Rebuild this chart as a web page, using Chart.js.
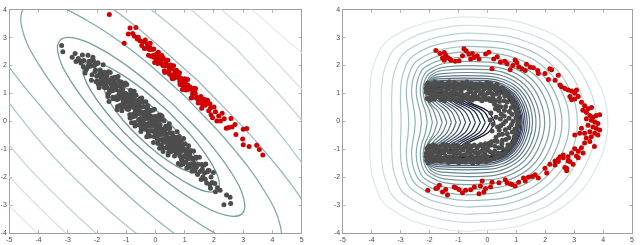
<!DOCTYPE html>
<html>
<head>
<meta charset="utf-8">
<script src="https://cdn.jsdelivr.net/npm/chart.js@4.4.0/dist/chart.umd.min.js"></script>
<style>
  body { margin: 0; background: #fff; }
  #wrap { position: relative; width: 640px; height: 245px; }
  canvas { position: absolute; top: 0; }
</style>
</head>
<body>
<div id="wrap">
  <canvas id="left" width="320" height="245" style="left:0"></canvas>
  <canvas id="right" width="320" height="245" style="left:320px"></canvas>
</div>
<script>
const xTicks = [-5, -4, -3, -2, -1, 0, 1, 2, 3, 4, 5];
const yTicks = [-4, -3, -2, -1, 0, 1, 2, 3, 4];

// left panel: samples
const leftGray = [
  [-3.21,2.72],[-3.17,2.49],[-2.85,2.3],[-2.75,2.43],[-2.72,2.14],[-2.64,2.25],[-2.52,2.14],[-2.47,1.96],
  [-2.58,2.17],[-2.55,2.09],[-2.5,2.38],[-2.45,2.18],[-2.41,1.73],
  [-2.38,1.85],[-2.35,1.89],[-2.31,2.37],[-2.28,2.14],[-2.26,2.06],[-2.23,1.97],[-2.21,2.16],
  [-2.19,1.47],[-2.17,1.67],[-2.14,2.30],[-2.12,2.17],[-2.09,2.01],[-2.07,1.79],[-2.05,1.84],[-2.03,1.42],[-2.01,1.62],
  [-1.99,2.07],[-1.97,2.10],[-1.95,1.32],[-1.93,1.20],[-1.91,1.68],[-1.89,1.84],[-1.87,1.42],[-1.85,1.47],[-1.83,1.34],[-1.82,1.66],[-1.81,1.55],
  [-1.79,2.03],[-1.78,1.45],[-1.76,1.22],[-1.74,1.48],[-1.72,1.57],[-1.71,1.21],[-1.69,1.31],[-1.67,1.22],[-1.66,1.63],[-1.64,1.42],[-1.63,0.89],[-1.62,0.99],[-1.61,1.78],
  [-1.59,0.71],[-1.58,1.03],[-1.57,1.11],[-1.55,1.75],[-1.54,1.48],[-1.52,1.38],[-1.51,1.31],[-1.49,1.55],[-1.48,1.17],[-1.47,1.10],[-1.45,0.81],[-1.44,1.27],[-1.43,1.19],[-1.42,1.42],[-1.41,1.57],
  [-1.39,1.19],[-1.38,1.26],[-1.37,1.33],[-1.35,1.58],[-1.34,0.88],[-1.33,0.78],[-1.31,0.42],[-1.3,0.53],[-1.29,0.79],[-1.28,1.61],[-1.26,1.45],[-1.25,1.27],[-1.24,1.01],[-1.23,1.08],[-1.22,0.57],[-1.21,0.84],
  [-1.19,1.28],[-1.18,1.37],[-1.17,1.41],[-1.16,0.51],[-1.15,0.38],[-1.13,0.94],[-1.12,1.14],[-1.11,0.67],[-1.1,0.74],[-1.08,0.59],[-1.07,0.97],[-1.06,0.84],[-1.05,0.52],[-1.04,0.75],[-1.03,1.37],[-1.02,1.0],[-1.01,0.87],
  [-0.99,0.97],[-0.98,1.32],[-0.97,0.68],[-0.96,0.43],[-0.95,0.73],[-0.93,0.83],[-0.92,0.43],[-0.91,0.56],[-0.9,0.47],[-0.89,0.93],[-0.88,0.71],[-0.87,0.12],[-0.86,0.23],[-0.85,1.11],[-0.84,1.05],[-0.83,0.94],[-0.82,-0.05],[-0.81,0.68],
  [-0.79,0.16],[-0.78,0.65],[-0.77,0.56],[-0.76,0.80],[-0.75,0.96],[-0.73,1.08],[-0.72,0.24],[-0.71,-0.04],[-0.7,-0.17],[-0.69,0.18],[-0.68,0.26],[-0.67,0.94],[-0.66,0.66],[-0.65,0.57],[-0.64,0.48],[-0.63,0.75],[-0.62,0.35],[-0.61,0.27],
  [-0.59,0.32],[-0.58,0.70],[-0.57,0.41],[-0.56,0.48],[-0.55,0.55],[-0.53,0.80],[-0.52,0.10],[-0.51,0.0],[-0.5,-0.36],[-0.49,-0.24],[-0.48,0.02],[-0.47,0.84],[-0.46,0.69],[-0.45,0.51],[-0.44,0.25],[-0.43,0.32],[-0.42,-0.19],[-0.41,0.08],
  [-0.39,-0.07],[-0.38,0.31],[-0.37,0.18],[-0.36,-0.14],[-0.35,0.09],[-0.33,0.70],[-0.32,0.33],[-0.31,0.21],[-0.3,-0.55],[-0.29,0.43],[-0.28,0.52],[-0.27,0.56],[-0.26,-0.34],[-0.25,-0.47],[-0.24,0.10],[-0.23,0.30],[-0.22,-0.18],[-0.21,-0.11],
  [-0.19,-0.53],[-0.18,0.20],[-0.17,-0.15],[-0.16,0.40],[-0.15,-0.34],[-0.13,-0.01],[-0.12,0.02],[-0.11,-0.34],[-0.1,0.40],[-0.09,-0.15],[-0.08,0.16],[-0.07,-0.76],[-0.06,0.01],[-0.05,-0.54],[-0.04,0.43],[-0.03,-0.36],[-0.02,0.17],[-0.01,-0.16],
  [0.01,-0.06],[0.02,-0.46],[0.03,-0.34],[0.05,-0.44],[0.06,0.02],[0.07,-0.20],[0.08,-0.79],[0.09,-0.68],[0.1,0.21],[0.11,0.15],[0.12,0.04],[0.14,-0.96],[0.15,-0.23],[0.16,-0.12],[0.17,0.23],[0.18,-0.41],[0.19,-0.66],
  [0.21,0.05],[0.22,0.18],[0.23,-0.66],[0.25,-0.95],[0.26,-1.08],[0.27,-0.74],[0.28,-0.66],[0.29,0.02],[0.31,-0.26],[0.32,-0.35],[0.33,-0.44],[0.35,-0.18],[0.36,-0.58],[0.37,-0.66],[0.38,-0.95],[0.39,-0.46],
  [0.41,-0.77],[0.42,-0.87],[0.43,-1.21],[0.45,-1.11],[0.46,-0.87],[0.47,-0.09],[0.49,-0.24],[0.5,-0.41],[0.52,-0.66],[0.53,-0.60],[0.54,-1.08],[0.56,-0.83],[0.57,-0.78],[0.58,-0.42],[0.59,-0.69],
  [0.61,-0.53],[0.62,-0.96],[0.64,-0.91],[0.66,-1.05],[0.67,-0.70],[0.69,-0.83],[0.71,-1.12],[0.72,-0.92],[0.74,-0.37],[0.75,-0.70],[0.77,-0.83],[0.78,-1.51],[0.79,-0.63],
  [0.81,-0.54],[0.83,-1.23],[0.84,-0.91],[0.86,-1.56],[0.87,-0.73],[0.89,-1.08],[0.91,-1.39],[0.92,-0.87],[0.94,-1.53],[0.96,-0.61],[0.97,-1.28],[0.99,-1.01],
  [1.01,-0.81],[1.03,-1.46],[1.05,-1.15],[1.07,-1.67],[1.09,-1.02],[1.11,-1.35],[1.13,-0.87],[1.15,-1.64],[1.17,-1.19],[1.19,-1.53],
  [1.21,-1.05],[1.23,-1.59],[1.25,-1.79],[1.28,-1.32],[1.3,-1.06],[1.33,-1.51],[1.35,-1.78],[1.37,-1.32],[1.39,-1.64],
  [1.42,-1.29],[1.44,-1.90],[1.47,-1.55],[1.5,-1.29],[1.53,-1.80],[1.56,-2.08],[1.58,-1.55],
  [1.62,-1.99],[1.65,-1.57],[1.68,-1.85],[1.72,-1.53],[1.75,-2.21],[1.78,-1.81],
  [1.83,-1.76],[1.86,-2.27],[1.9,-1.99],[1.94,-2.19],[1.98,-1.83],
  [1.88,-2.4],[2.03,-2.23],[2.12,-2.38],[2.21,-2.47],[2.05,-2.52],[2.43,-2.64],[2.55,-2.72],[2.57,-2.94],[2.34,-2.99],
  [-1.35,1.13],[-1.27,0.89],[-1.14,1.06],[-1.09,0.79],[-0.94,0.79],[-0.9,0.51],[-0.74,0.50],[-0.69,0.37],[-0.63,0.52],[-0.54,0.29],
  [-0.47,0.33],[-0.44,0.08],[-0.34,0.12],[-0.27,-0.16],[-0.2,0.12],[-0.14,-0.13],[-0.06,-0.07],[0.0,-0.30],[0.04,-0.20],[0.13,-0.49],
  [0.2,-0.28],[0.24,-0.47],[0.3,-0.32],[0.34,-0.64],[0.44,-0.60],[0.51,-0.88],[0.55,-0.58],[0.63,-0.86],[0.68,-0.78],[0.73,-1.04],
  [0.85,-1.01],[0.95,-0.98],[1.04,-1.27],[1.14,-1.18],[-1.52,1.16],[-1.63,1.47],[-1.86,1.55],[1.27,-1.37],[-0.81,0.78],[-0.58,0.05],
  [0.09,0.04],[0.48,-1.04],
  [-1.75,1.76],[-1.68,1.20],[-1.56,1.40],[-1.46,0.86],[-1.40,1.53],[-1.32,1.27],[-1.2,0.54],[-1.16,1.20],[-1.09,1.29],[-1.0,0.50],
  [-0.97,0.92],[-0.88,0.24],[-0.84,0.93],[-0.77,0.25],[-0.72,0.90],[-0.66,0.33],[-0.6,0.62],[-0.56,-0.12],[-0.5,0.33],[-0.45,-0.07],
  [-0.4,0.53],[-0.36,-0.28],[-0.3,0.31],[-0.25,-0.08],[-0.2,0.37],[-0.16,-0.35],[-0.1,0.05],[-0.05,-0.37],[0.0,0.10],[0.06,-0.62],
  [0.1,-0.28],[0.15,0.06],[0.2,-0.84],[0.26,-0.35],[0.3,-0.74],[0.36,-0.26],[0.4,-0.68],[0.45,-0.27],[0.5,-1.01],[0.55,-0.72],
  [0.6,-0.57],[0.65,-1.24],[0.7,-0.57],[0.76,-1.12],[0.8,-0.84],[0.88,-1.34],[0.93,-0.80],[0.98,-1.25],[1.06,-1.03],[1.12,-1.56],
  [1.2,-1.29],[1.3,-1.64],[1.38,-1.29],[-1.9,1.71],[-2.0,1.45],[-2.1,2.00],[-2.3,1.99],[1.6,-1.72],[1.7,-2.07],[1.8,-1.76]
];

const leftRed = [
  [-1.58,3.83],[-0.87,3.34],[-0.67,3.36],[-0.93,3.13],[-0.78,3.15],[-1.07,2.8],[-0.59,3.01],[-0.53,2.89],[-0.47,2.72],[-0.72,3.05],[-0.62,2.95],
  [-0.42,2.85],[-0.38,2.61],[-0.35,2.91],[-0.31,2.63],[-0.28,2.78],[-0.24,2.37],[-0.21,2.57],[-0.18,2.80],[-0.15,2.33],[-0.12,2.57],
  [-0.09,2.36],[-0.06,2.59],[-0.03,2.11],[0.0,2.39],[0.03,2.21],[0.05,2.42],[0.08,2.07],[0.1,2.48],[0.13,2.20],[0.15,2.28],
  [0.18,2.13],[0.2,2.07],[0.22,2.36],[0.24,2.25],[0.26,2.27],[0.28,2.04],[0.3,1.81],[0.32,1.75],[0.34,2.08],[0.36,1.99],
  [0.38,2.0],[0.4,2.01],[0.42,2.19],[0.44,1.79],[0.46,1.75],[0.48,1.69],[0.5,1.96],[0.52,2.02],[0.54,1.90],[0.56,1.58],
  [0.58,1.53],[0.6,1.54],[0.62,1.99],[0.64,1.68],[0.66,1.78],[0.68,1.73],[0.7,1.82],[0.72,1.82],[0.74,1.64],[0.76,1.72],
  [0.78,1.67],[0.8,1.54],[0.82,1.74],[0.84,1.32],[0.86,1.55],[0.88,1.37],[0.9,1.30],[0.92,1.14],[0.94,1.35],[0.96,1.26],
  [0.98,1.45],[1.0,1.53],[1.02,1.43],[1.04,1.12],[1.06,1.14],[1.08,1.14],[1.1,1.50],[1.12,1.28],[1.14,1.23],[1.16,1.18],
  [1.19,1.22],[1.22,0.84],[1.25,0.85],[1.28,1.02],[1.31,1.19],[1.34,1.12],[1.37,1.18],[1.4,0.84],[1.43,0.85],[1.46,0.66],
  [1.49,0.70],[1.52,0.78],[1.55,0.89],[1.58,0.47],[1.62,0.80],[1.66,0.67],[1.7,0.58],[1.74,0.65],[1.78,0.76],[1.82,0.38],
  [1.86,0.63],[1.9,0.24],[1.95,0.13],[2.0,0.51],[2.05,0.34],[2.1,0.01],[2.16,0.19],[2.22,0.01],[2.28,0.29],[2.35,0.09],
  [2.42,-0.25],[2.5,-0.22],
  [0.25,2.0],[0.35,2.2],[0.47,1.86],[0.57,1.9],[0.65,1.55],[0.73,1.75],[0.83,1.42],[0.91,1.5],[1.0,1.38],[1.09,1.3],
  [1.18,1.15],[1.27,0.98],[1.36,1.0],[1.45,0.8],[1.6,0.62],[1.68,0.78],[1.88,0.48],[-0.2,2.66],[-0.05,2.3],[0.07,2.35],
  [2.58,0.1],[2.62,-0.2],[2.72,-0.11],[3.12,-0.26],[3.0,-0.28],[2.75,-0.47],[2.98,-0.63],[3.0,-0.84],[3.2,-0.9],[3.46,-0.86],[3.55,-1.01],[3.67,-1.21]
];

// left panel: contour levels, innermost first
const leftLevels = [
  [[0.24,0.19],[-0.39,0.76],[-0.98,1.18],[-1.44,1.39],[-1.71,1.36],[-1.74,1.09],[-1.53,0.63],[-1.11,0.04],[-0.54,-0.59],[0.09,-1.16],[0.68,-1.58],[1.14,-1.79],[1.41,-1.76],[1.44,-1.49],[1.23,-1.03],[0.81,-0.44],[0.24,0.19]],
  [[0.42,0.37],[-0.49,1.19],[-1.35,1.80],[-2.02,2.11],[-2.41,2.06],[-2.46,1.67],[-2.15,1.0],[-1.54,0.14],[-0.72,-0.77],[0.19,-1.59],[1.05,-2.2],[1.72,-2.51],[2.11,-2.46],[2.16,-2.07],[1.85,-1.4],[1.24,-0.54],[0.42,0.37]],
  [[0.63,0.58],[-0.62,1.71],[-1.80,2.55],[-2.73,2.97],[-3.26,2.91],[-3.32,2.38],[-2.90,1.45],[-2.06,0.27],[-0.93,-0.98],[0.32,-2.11],[1.50,-2.95],[2.43,-3.37],[2.96,-3.31],[3.02,-2.78],[2.60,-1.85],[1.76,-0.67],[0.63,0.58]],
  [[0.98,0.93],[-0.76,2.50],[-2.40,3.65],[-3.70,4.22],[-4.46,4.11],[-4.57,3.35],[-4.0,2.05],[-2.85,0.41],[-1.28,-1.33],[0.46,-2.90],[2.10,-4.05],[3.40,-4.62],[4.16,-4.51],[4.27,-3.75],[3.70,-2.45],[2.53,-0.81],[0.98,0.93]],
  [[1.48,1.43],[-1.03,3.69],[-3.40,5.35],[-5.28,6.17],[-6.37,6.02],[-6.52,4.93],[-5.70,3.05],[-4.04,0.68],[-1.78,-1.83],[0.73,-4.09],[3.10,-5.75],[4.98,-6.57],[6.07,-6.42],[6.22,-5.33],[5.40,-3.45],[3.74,-1.08],[1.48,1.43]],
  [[2.08,2.03],[-0.53,4.30],[-3.08,5.88],[-5.18,6.53],[-6.51,6.16],[-6.88,4.83],[-6.23,2.73],[-4.65,0.18],[-2.38,-2.43],[0.23,-4.70],[2.78,-6.28],[4.88,-6.93],[6.21,-6.56],[6.58,-5.23],[5.93,-3.13],[4.35,-0.58],[2.08,2.03]],
  [[2.71,2.66],[-0.35,5.29],[-3.38,7.08],[-5.91,7.76],[-7.58,7.23],[-8.11,5.56],[-7.43,3.03],[-5.64,0.0],[-3.01,-3.06],[0.05,-5.69],[3.08,-7.48],[5.61,-8.16],[7.28,-7.63],[7.81,-5.96],[7.13,-3.43],[5.34,-0.40],[2.71,2.66]],
  [[3.21,3.16],[-0.30,6.15],[-3.78,8.18],[-6.70,8.93],[-8.64,8.29],[-9.28,6.35],[-8.53,3.43],[-6.50,-0.05],[-3.51,-3.56],[-0.01,-6.55],[3.48,-8.58],[6.40,-9.33],[8.34,-8.69],[8.98,-6.75],[8.23,-3.83],[6.20,-0.35],[3.21,3.16]],
  [[3.70,3.65],[-0.25,7.02],[-4.17,9.27],[-7.49,10.10],[-9.70,9.35],[-10.45,7.14],[-9.62,3.82],[-7.37,-0.11],[-4.0,-4.05],[-0.05,-7.42],[3.87,-9.67],[7.19,-10.50],[9.40,-9.75],[10.15,-7.54],[9.32,-4.22],[7.07,0.29],[3.70,3.65]]
];
const leftLevelColors = ['#6c9799', '#6f9a9c', '#76a0a1', '#84abab', '#98baba', '#aec9c9', '#c3d8d8', '#d4e4e4', '#e2eded'];

// right panel: samples
const rightGray = [
  [-2.11,1.05],[-2.10,1.30],[-2.12,1.18],[-2.11,-1.14],[-2.10,-1.39],[-2.12,-1.26],
  [-2.10,1.19],[-2.08,0.82],[-2.06,1.37],[-2.04,1.02],[-2.02,1.27],[-1.99,0.76],[-1.97,1.09],[-1.95,1.33],[-1.93,0.90],[-1.90,1.15],[-1.88,0.97],[-1.86,1.24],[-1.84,0.79],[-1.81,1.40],[-1.79,1.05],[-1.77,1.30],[-1.75,0.87],[-1.72,1.13],[-1.70,0.93],[-1.68,1.36],
  [-1.66,0.95],[-1.63,1.31],[-1.61,0.78],[-1.59,1.12],[-1.57,1.38],[-1.54,0.86],[-1.52,1.22],[-1.50,1.01],[-1.48,0.74],[-1.45,1.28],[-1.43,1.07],[-1.41,0.91],[-1.39,1.35],[-1.36,0.81],[-1.34,1.17],[-1.32,1.42],[-1.30,0.99],[-1.27,0.77],[-1.25,1.25],[-1.23,1.04],
  [-1.21,1.29],[-1.18,0.88],[-1.16,1.11],[-1.14,1.39],[-1.12,0.80],[-1.09,1.03],[-1.07,1.21],[-1.05,0.75],[-1.03,1.34],[-1.00,0.96],[-0.98,1.16],[-0.96,0.84],[-0.94,1.26],[-0.91,1.08],[-0.89,0.72],[-0.87,1.37],[-0.85,0.94],[-0.82,1.19],[-0.80,0.83],[-0.78,1.32],
  [-0.76,0.89],[-0.73,1.23],[-0.71,1.41],[-0.69,0.98],[-0.67,0.79],[-0.64,1.14],[-0.62,1.30],[-0.60,0.85],[-0.58,1.06],[-0.55,1.36],[-0.53,0.76],[-0.51,1.18],[-0.49,0.92],[-0.46,1.27],[-0.44,1.00],[-0.42,0.81],[-0.40,1.33],[-0.37,1.10],[-0.35,0.87],[-0.33,1.20],
  [-0.31,1.12],[-0.28,0.80],[-0.26,1.35],[-0.24,0.97],[-0.22,1.24],[-0.19,0.74],[-0.17,1.05],[-0.15,1.31],[-0.13,0.88],[-0.10,1.17],[-0.08,0.93],[-0.06,1.28],[-0.04,0.78],[-0.01,1.39],[0.01,1.02],[0.03,1.21],
  [-2.09,-0.97],[-2.07,-1.31],[-2.05,-1.49],[-2.03,-1.06],[-2.01,-0.87],[-1.98,-1.22],[-1.96,-1.38],[-1.94,-0.93],[-1.92,-1.14],[-1.89,-1.44],[-1.87,-0.84],[-1.85,-1.26],[-1.83,-1.00],[-1.80,-1.35],[-1.78,-1.08],[-1.76,-0.89],[-1.74,-1.41],[-1.71,-1.18],[-1.69,-0.95],[-1.67,-1.28],
  [-1.65,-1.20],[-1.62,-0.88],[-1.60,-1.43],[-1.58,-1.05],[-1.56,-1.32],[-1.53,-0.82],[-1.51,-1.13],[-1.49,-1.39],[-1.47,-0.96],[-1.44,-1.25],[-1.42,-1.01],[-1.40,-1.36],[-1.38,-0.86],[-1.35,-1.47],[-1.33,-1.10],[-1.31,-1.29],
  [-1.29,-1.27],[-1.26,-0.90],[-1.24,-1.45],[-1.22,-1.10],[-1.20,-1.35],[-1.17,-0.84],[-1.15,-1.17],[-1.13,-1.41],[-1.11,-0.98],[-1.08,-1.23],[-1.06,-1.05],[-1.04,-1.32],[-1.02,-0.87],[-0.99,-1.48],[-0.97,-1.13],[-0.95,-1.38],[-0.93,-0.95],[-0.90,-1.21],[-0.88,-1.01],[-0.86,-1.44],
  [-0.84,-1.03],[-0.81,-1.39],[-0.79,-0.86],[-0.77,-1.20],[-0.75,-1.46],[-0.72,-0.94],[-0.70,-1.30],[-0.68,-1.09],[-0.66,-0.82],[-0.63,-1.36],[-0.61,-1.15],[-0.59,-0.99],[-0.57,-1.43],[-0.54,-0.89],[-0.52,-1.25],[-0.50,-1.50],[-0.48,-1.07],[-0.45,-0.85],[-0.43,-1.33],[-0.41,-1.12],
  [-0.39,-1.37],[-0.36,-0.96],[-0.34,-1.19],[-0.32,-1.47],[-0.30,-0.88],[-0.27,-1.11],[-0.25,-1.29],[-0.23,-0.83],[-0.21,-1.42],[-0.18,-1.04],[-0.16,-1.24],[-0.14,-0.92],[-0.12,-1.34],[-0.09,-1.16],[-0.07,-0.80],[-0.05,-1.45],[-0.03,-1.02],[0.0,-1.27],[0.02,-0.91],[0.04,-1.40],
  [0.05,0.82],[0.08,1.11],[0.11,1.36],[0.09,0.75],[0.15,1.0],[0.2,1.24],[0.19,0.87],[0.27,1.13],[0.33,1.33],
  [0.19,0.72],[0.31,0.98],[0.39,1.18],[0.28,0.75],[0.42,1.0],[0.53,1.19],[0.25,0.61],[0.42,0.84],[0.59,1.07],
  [0.42,0.71],[0.60,0.91],[0.72,1.03],[0.36,0.54],[0.58,0.74],[0.74,0.88],[0.46,0.52],[0.69,0.69],[0.86,0.81],
  [0.39,0.39],[0.63,0.53],[0.87,0.67],[0.59,0.39],[0.83,0.5],[0.99,0.57],[0.48,0.25],[0.76,0.35],[0.98,0.42],
  [0.58,0.19],[0.85,0.25],[1.03,0.28],[0.45,0.08],[0.75,0.11],[0.99,0.14],[0.63,0],[0.89,0],[1.08,0],
  [0.55,-0.09],[0.83,-0.12],[1.04,-0.14],[0.46,-0.16],[0.75,-0.23],[0.95,-0.27],[0.62,-0.30],[0.86,-0.38],[1.02,-0.43],
  [0.41,-0.31],[0.69,-0.44],[0.93,-0.55],[0.52,-0.46],[0.74,-0.59],[0.94,-0.70],[0.40,-0.48],[0.64,-0.65],[0.85,-0.81],
  [0.52,-0.68],[0.71,-0.85],[0.80,-0.94],[0.30,-0.57],[0.50,-0.80],[0.67,-0.98],[0.34,-0.72],[0.50,-0.95],[0.63,-1.12],
  [0.25,-0.70],[0.39,-0.95],[0.52,-1.17],[0.26,-0.89],[0.38,-1.14],[0.44,-1.28],[0.14,-0.73],[0.25,-1.07],[0.31,-1.26],
  [0.11,-0.85],[0.18,-1.14],[0.22,-1.34],[0.05,-0.79],[0.08,-1.08],[0.11,-1.37],
  [0.12,0.3],[0.2,-0.1],[0.3,0.15],[0.16,-0.35],[0.35,-0.2],[0.28,0.45],[0.1,0.05]
];

const rightRed = [
  [-1.78,2.54],[-1.64,2.43],[-1.49,2.47],[-1.55,2.27],[-1.38,2.29],[-1.30,2.23],[-1.44,2.37],[-1.49,2.19],[-1.26,2.19],[-1.11,2.15],
  [-0.98,2.17],[-0.86,2.35],[-0.81,2.60],[-0.73,2.52],[-0.64,2.41],[-0.58,2.23],[-0.46,2.29],[-0.52,2.43],[-0.35,2.35],[-0.29,2.23],
  [-0.06,2.41],[0.05,2.48],[0.22,2.23],[0.34,2.31],[0.16,1.88],[0.45,2.12],[0.6,2.15],[0.68,2.06],[0.79,1.85],[0.88,2.0],
  [0.96,2.20],[1.02,2.11],[1.08,1.96],[1.19,1.88],[1.31,1.82],[1.35,2.05],[1.48,1.94],[1.59,1.92],[1.74,1.82],[1.76,1.71],
  [1.99,1.71],[2.11,1.50],[2.16,1.88],[2.22,1.85],[2.34,1.47],[2.45,1.65],[2.51,1.30],[2.56,1.24],[2.68,1.18],[2.79,1.12],
  [2.85,0.89],[2.91,0.77],[3.02,1.01],[3.08,1.12],[3.14,0.89],[2.91,1.09],[3.02,0.80],
  [3.25,0.68],[3.36,0.56],[3.48,0.45],[3.42,0.33],[3.54,0.21],[3.65,0.15],[3.76,0.21],[3.88,0.24],[3.59,0.04],[3.71,-0.02],
  [3.82,-0.08],[3.48,-0.14],[3.65,-0.20],[3.76,-0.25],[3.88,-0.31],[3.54,-0.37],[3.71,-0.43],[3.82,-0.49],[3.59,-0.55],[3.42,-0.60],
  [3.54,-0.72],[3.36,-0.78],[3.25,-0.95],[3.14,-1.07],[3.31,-1.13],[3.08,-1.24],[3.14,-1.30],[2.91,-1.13],[2.79,-1.42],[2.96,-1.54],
  [2.68,-1.65],[2.74,-1.77],[2.62,-1.30],[2.45,-1.36],[3.02,-0.49],[3.19,-0.43],[3.36,-0.43],[3.25,-0.25],[3.42,0.09],[3.30,0.40],
  [3.6,0.5],[3.7,-0.9],[3.02,-0.98],[2.85,-1.44],[2.74,-1.68],[2.79,-1.27],[2.62,-1.21],[2.51,-1.27],[2.45,-1.44],[2.34,-1.56],
  [2.05,-1.85],[1.99,-1.68],[1.76,-2.03],[1.65,-1.91],[1.31,-2.14],[1.25,-2.03],[0.96,-2.32],[0.85,-2.26],[0.68,-2.20],[0.62,-2.09],
  [-0.24,-2.32],[-0.18,-2.14],[-0.98,-2.44],[-1.09,-2.38],[-1.44,-2.44],[-1.72,-2.38],[-2.06,-2.47],[-1.78,-2.41],[-1.66,-2.29],[-1.55,-2.53],
  [-1.38,-2.64],[-1.15,-2.35],[-0.86,-2.56],[-0.75,-2.47],[-0.58,-2.45],[-0.29,-2.59],[-0.12,-2.53],[-0.06,-2.41],[0.11,-2.35],[0.16,-2.18],
  [0.79,-2.24],[1.08,-2.18],[1.42,-2.0],[2.16,-1.54],[2.34,-1.42],[1.55,-1.98],[0.4,-2.2],[-0.45,-2.35]
];

// right panel: contour levels, outermost first
const rightLevels = [
  [[-4.06,-0.04],[-4.06,1.1],[-3.93,2.01],[-3.41,2.93],[-1.71,3.63],[0,3.71],[1.58,3.41],[2.95,2.63],[3.83,1.41],[4.16,-0.04],[3.83,-1.51],[2.95,-2.78],[1.58,-3.59],[0,-3.90],[-1.71,-3.82],[-3.41,-3.09],[-3.93,-2.13],[-4.06,-1.18],[-4.06,-0.04]],
  [[-3.66,-0.04],[-3.66,1.1],[-3.54,1.91],[-3.08,2.72],[-1.58,3.34],[0,3.41],[1.43,3.14],[2.68,2.42],[3.47,1.30],[3.77,-0.04],[3.47,-1.39],[2.68,-2.56],[1.43,-3.31],[0,-3.59],[-1.58,-3.51],[-3.08,-2.87],[-3.54,-2.03],[-3.66,-1.18],[-3.66,-0.04]],
  [[-3.30,-0.04],[-3.30,1.1],[-3.20,1.81],[-2.79,2.52],[-1.47,3.07],[0,3.13],[1.30,2.88],[2.43,2.22],[3.15,1.19],[3.42,-0.04],[3.15,-1.28],[2.43,-2.35],[1.30,-3.04],[0,-3.30],[-1.47,-3.23],[-2.79,-2.66],[-3.20,-1.92],[-3.30,-1.18],[-3.30,-0.04]],
  [[-2.98,-0.04],[-3.0,1.1],[-2.91,1.72],[-2.56,2.35],[-1.40,2.83],[0,2.88],[1.18,2.65],[2.21,2.04],[2.86,1.09],[3.11,-0.04],[2.86,-1.17],[2.21,-2.16],[1.18,-2.80],[0,-3.04],[-1.40,-2.98],[-2.56,-2.48],[-2.91,-1.83],[-3.0,-1.18],[-2.98,-0.04]],
  [[-2.72,-0.04],[-2.74,0.38],[-2.78,0.74],[-2.80,1.1],[-2.72,1.65],[-2.41,2.19],[-1.40,2.61],[0,2.66],[1.08,2.45],[2.01,1.89],[2.60,1.01],[2.83,-0.04],[2.60,-1.09],[2.01,-2.01],[1.08,-2.59],[0,-2.81],[-1.40,-2.75],[-2.41,-2.32],[-2.72,-1.76],[-2.80,-1.18],[-2.78,-0.81],[-2.74,-0.44],[-2.72,-0.04]],
  [[-2.49,-0.04],[-2.53,0.38],[-2.59,0.74],[-2.62,1.1],[-2.55,1.58],[-2.28,2.05],[-1.40,2.42],[0,2.46],[0.98,2.26],[1.83,1.75],[2.37,0.93],[2.58,-0.04],[2.37,-1.01],[1.83,-1.86],[0.98,-2.39],[0,-2.60],[-1.40,-2.56],[-2.28,-2.17],[-2.55,-1.68],[-2.62,-1.18],[-2.59,-0.81],[-2.53,-0.44],[-2.49,-0.04]],
  [[-2.28,-0.04],[-2.33,0.38],[-2.42,0.74],[-2.46,1.1],[-2.40,1.51],[-2.17,1.93],[-1.40,2.24],[0,2.28],[0.90,2.10],[1.68,1.62],[2.17,0.87],[2.36,-0.04],[2.17,-0.94],[1.68,-1.72],[0.90,-2.22],[0,-2.41],[-1.40,-2.37],[-2.17,-2.05],[-2.40,-1.61],[-2.46,-1.18],[-2.42,-0.81],[-2.33,-0.44],[-2.28,-0.04]],
  [[-2.08,-0.04],[-2.15,0.38],[-2.27,0.74],[-2.32,1.1],[-2.27,1.46],[-2.07,1.81],[-1.40,2.09],[0,2.12],[0.82,1.95],[1.53,1.51],[1.99,0.81],[2.16,-0.04],[1.99,-0.88],[1.53,-1.61],[0.82,-2.07],[0,-2.24],[-1.40,-2.21],[-2.07,-1.92],[-2.27,-1.56],[-2.32,-1.18],[-2.27,-0.81],[-2.15,-0.44],[-2.08,-0.04]],
  [[-1.90,-0.04],[-2.0,0.38],[-2.16,0.74],[-2.22,1.1],[-2.18,1.41],[-2.0,1.72],[-1.43,1.95],[0,1.98],[0.75,1.82],[1.41,1.41],[1.82,0.75],[1.98,-0.04],[1.82,-0.82],[1.41,-1.51],[0.75,-1.93],[0,-2.10],[-1.43,-2.07],[-2.0,-1.83],[-2.18,-1.51],[-2.22,-1.18],[-2.16,-0.81],[-2.0,-0.44],[-1.90,-0.04]],
  [[-1.73,-0.04],[-1.86,0.38],[-2.07,0.74],[-2.16,1.1],[-1.97,1.63],[-1.49,1.83],[0,1.85],[0.69,1.70],[1.29,1.31],[1.67,0.70],[1.82,-0.04],[1.67,-0.77],[1.29,-1.40],[0.69,-1.81],[0,-1.96],[-1.49,-1.94],[-1.97,-1.74],[-2.16,-1.18],[-2.07,-0.81],[-1.86,-0.44],[-1.73,-0.04]],
  [[-1.56,-0.04],[-1.71,0.36],[-2.0,0.68],[-2.13,1.1],[-1.97,1.54],[-1.56,1.71],[0,1.73],[0.64,1.59],[1.19,1.23],[1.55,0.66],[1.68,-0.04],[1.55,-0.73],[1.19,-1.32],[0.64,-1.69],[0,-1.84],[-1.56,-1.82],[-1.97,-1.64],[-2.13,-1.18],[-2.0,-0.75],[-1.71,-0.41],[-1.56,-0.04]],
  [[-1.40,-0.04],[-1.56,0.36],[-1.88,0.68],[-2.12,1.1],[-1.99,1.46],[-1.65,1.60],[0,1.62],[0.59,1.49],[1.11,1.15],[1.44,0.62],[1.56,-0.04],[1.44,-0.68],[1.11,-1.24],[0.59,-1.59],[0,-1.72],[-1.65,-1.70],[-1.99,-1.56],[-2.12,-1.18],[-1.88,-0.75],[-1.56,-0.41],[-1.40,-0.04]],
  [[-1.24,-0.04],[-1.40,0.36],[-1.76,0.68],[-2.11,1.1],[-2.0,1.40],[-1.72,1.52],[0,1.53],[0.55,1.41],[1.04,1.09],[1.34,0.58],[1.46,-0.04],[1.34,-0.64],[1.04,-1.17],[0.55,-1.51],[0,-1.63],[-1.72,-1.62],[-2.0,-1.50],[-2.11,-1.18],[-1.76,-0.75],[-1.40,-0.41],[-1.24,-0.04]],
  [[-1.08,-0.04],[-1.25,0.36],[-1.64,0.68],[-1.94,0.9],[-2.10,1.1],[-2.01,1.35],[-1.78,1.45],[0,1.46],[0.52,1.34],[0.98,1.04],[1.27,0.55],[1.38,-0.04],[1.27,-0.61],[0.98,-1.12],[0.52,-1.43],[0,-1.56],[-1.78,-1.55],[-2.01,-1.44],[-2.10,-1.18],[-1.94,-0.98],[-1.64,-0.75],[-1.25,-0.41],[-1.08,-0.04]],
  [[-0.92,-0.04],[-1.10,0.36],[-1.52,0.68],[-1.82,0.9],[-2.10,1.1],[-2.03,1.31],[-1.83,1.39],[0,1.40],[0.50,1.29],[0.93,0.99],[1.21,0.53],[1.31,-0.04],[1.21,-0.59],[0.93,-1.07],[0.50,-1.38],[0,-1.50],[-1.83,-1.49],[-2.03,-1.40],[-2.10,-1.18],[-1.82,-0.98],[-1.52,-0.75],[-1.10,-0.41],[-0.92,-0.04]],
  [[-0.75,-0.04],[-0.94,0.36],[-1.39,0.68],[-1.69,0.9],[-2.09,1.1],[-2.03,1.28],[-1.87,1.34],[0,1.35],[0.48,1.24],[0.89,0.96],[1.15,0.51],[1.25,-0.04],[1.15,-0.57],[0.89,-1.04],[0.48,-1.33],[0,-1.44],[-1.87,-1.43],[-2.03,-1.37],[-2.09,-1.18],[-1.69,-0.98],[-1.39,-0.75],[-0.94,-0.41],[-0.75,-0.04]],
  [[-0.58,-0.04],[-0.78,0.36],[-1.26,0.68],[-1.56,0.9],[-2.09,1.1],[-2.04,1.25],[-1.90,1.30],[0,1.31],[0.46,1.21],[0.85,0.93],[1.10,0.50],[1.20,-0.04],[1.10,-0.56],[0.85,-1.01],[0.46,-1.30],[0,-1.40],[-1.90,-1.39],[-2.04,-1.34],[-2.09,-1.18],[-1.56,-0.98],[-1.26,-0.75],[-0.78,-0.41],[-0.58,-0.04]],
  [[-0.41,-0.04],[-0.61,0.36],[-1.13,0.68],[-1.43,0.9],[-2.08,1.1],[-2.04,1.23],[-1.92,1.27],[0,1.28],[0.44,1.18],[0.82,0.91],[1.07,0.49],[1.16,-0.04],[1.07,-0.55],[0.82,-0.99],[0.44,-1.27],[0,-1.37],[-1.92,-1.36],[-2.04,-1.32],[-2.08,-1.18],[-1.43,-0.98],[-1.13,-0.75],[-0.61,-0.41],[-0.41,-0.04]],
  [[-0.24,-0.04],[-0.45,0.36],[-1.0,0.68],[-1.30,0.9],[-2.08,1.1],[-2.04,1.2],[-1.95,1.25],[0,1.25],[0.43,1.15],[0.80,0.89],[1.03,0.48],[1.12,-0.04],[1.03,-0.54],[0.80,-0.96],[0.43,-1.24],[0,-1.34],[-1.95,-1.34],[-2.04,-1.29],[-2.08,-1.18],[-1.30,-0.98],[-1.0,-0.75],[-0.45,-0.41],[-0.24,-0.04]],
  [[-0.07,-0.04],[-0.29,0.36],[-0.87,0.68],[-1.17,0.9],[-2.07,1.1],[-2.04,1.18],[-1.96,1.22],[0,1.22],[0.41,1.12],[0.77,0.87],[0.99,0.46],[1.08,-0.04],[0.99,-0.52],[0.77,-0.94],[0.41,-1.21],[0,-1.31],[-1.96,-1.31],[-2.04,-1.27],[-2.07,-1.18],[-1.17,-0.98],[-0.87,-0.75],[-0.29,-0.41],[-0.07,-0.04]],
  [[0.10,-0.04],[-0.13,0.36],[-0.74,0.68],[-1.04,0.9],[-2.07,1.1],[-2.05,1.16],[-1.99,1.19],[0,1.19],[0.40,1.09],[0.74,0.84],[0.96,0.45],[1.04,-0.04],[0.96,-0.51],[0.74,-0.91],[0.40,-1.17],[0,-1.28],[-1.99,-1.28],[-2.05,-1.25],[-2.07,-1.18],[-1.04,-0.98],[-0.74,-0.75],[-0.13,-0.41],[0.10,-0.04]],
  [[0.26,-0.04],[0.02,0.36],[-0.62,0.68],[-0.92,0.9],[-2.06,1.1],[-2.04,1.14],[-2.0,1.16],[0,1.16],[0.38,1.07],[0.71,0.82],[0.92,0.44],[1.00,-0.04],[0.92,-0.50],[0.71,-0.89],[0.38,-1.14],[0,-1.25],[-2.0,-1.25],[-2.04,-1.23],[-2.06,-1.18],[-0.92,-0.98],[-0.62,-0.75],[0.02,-0.41],[0.26,-0.04]]
];
const rightLevelColors = [
  '#dbe9e9', '#cadede', '#b9d2d2', '#a9c6c6', '#9bbcbc', '#8fb3b3', '#86abab', '#7ea2a4',
  '#77999e', '#6f8f97', '#67858f', '#5f7a88', '#566f80', '#4d6378', '#44576f', '#3b4b65',
  '#33405b', '#2b3550', '#232b45', '#1c2239', '#15192d', '#0e1020'
];

function toXY(pairs) {
  return pairs.map(p => ({ x: p[0], y: p[1] }));
}

function pointSet(pairs, color) {
  return {
    data: toXY(pairs), xAxisID: 'x', yAxisID: 'y',
    backgroundColor: color, pointRadius: 2.5, pointBorderWidth: 0, order: 0
  };
}

function levelSet(pairs, color, width) {
  return {
    data: toXY(pairs), xAxisID: 'x', yAxisID: 'y', showLine: true,
    borderColor: color, borderWidth: width, pointRadius: 0, tension: 0.4, fill: false, order: 1
  };
}

function axis(pos, ticks, size, labels) {
  const horiz = pos === 'top' || pos === 'bottom';
  return {
    type: 'linear', position: pos, axis: horiz ? 'x' : 'y',
    min: ticks[0], max: ticks[ticks.length - 1],
    afterBuildTicks: s => { s.ticks = ticks.map(v => ({ value: v })); },
    afterFit: s => { if (horiz) s.height = size; else s.width = size; },
    ticks: {
      display: labels, color: '#4a4a4a', padding: horiz ? 6 : 5.5,
      font: { family: 'Liberation Sans', size: 7 }
    },
    grid: { drawOnChartArea: false, tickLength: -3, color: '#a0a0a0', lineWidth: 0.8 },
    border: { color: '#a0a0a0', width: 1 }
  };
}

function drawPanel(id, datasets, pad, yWidth) {
  new Chart(document.getElementById(id), {
    type: 'scatter',
    data: { datasets: datasets },
    options: {
      responsive: false,
      animation: false,
      events: [],
      layout: { padding: pad },
      elements: { line: { capBezierPoints: false } },
      plugins: { legend: { display: false }, tooltip: { enabled: false } },
      scales: {
        x: axis('bottom', xTicks, 12, true),
        x2: axis('top', xTicks, 0, false),
        y: axis('left', yTicks, yWidth, true),
        y2: axis('right', yTicks, 0, false)
      }
    }
  });
}

const leftSets = [pointSet(leftRed, '#d00000'), pointSet(leftGray, '#4d4d4d')];
leftLevels.forEach((lv, i) => leftSets.push(levelSet(lv, leftLevelColors[i], 1.3)));
drawPanel('left', leftSets, { left: 0, top: 4.5, right: 18.3, bottom: 0 }, 9.3);

const rightSets = [pointSet(rightRed, '#d00000'), pointSet(rightGray, '#4d4d4d')];
rightLevels.forEach((lv, i) => rightSets.push(levelSet(lv, rightLevelColors[i], 1.2)));
drawPanel('right', rightSets, { left: 10.7, top: 4.5, right: 5.7, bottom: 0 }, 12);
</script>
</body>
</html>
